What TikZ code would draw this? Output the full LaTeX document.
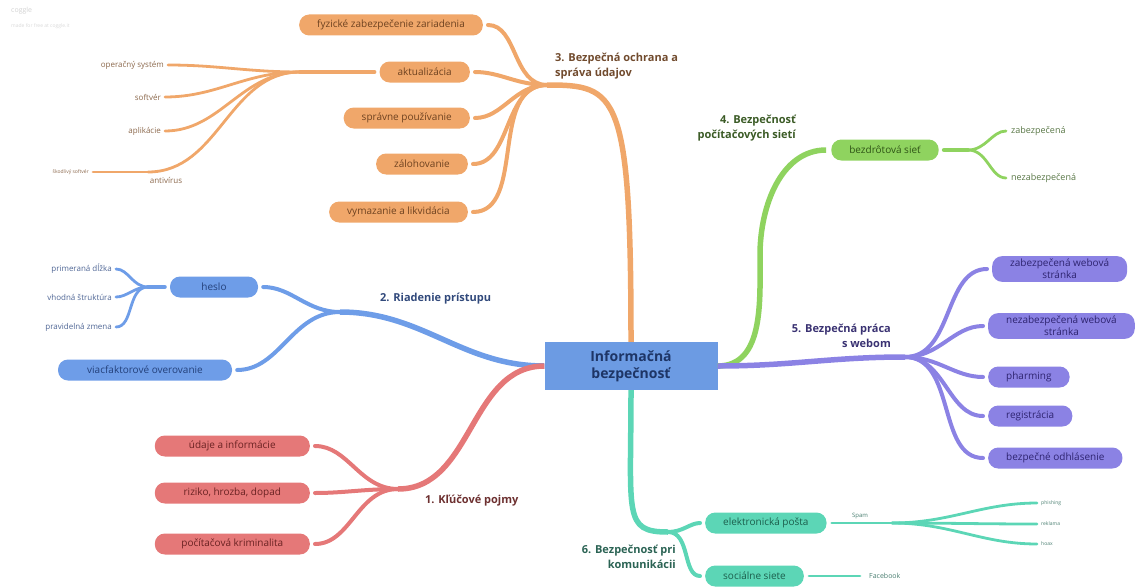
\documentclass[tikz,border=0pt]{standalone}
\usepackage{fontspec}
\setmainfont{Open Sans}
\usepackage{xcolor}
\usepackage{tikz}
\definecolor{orng}{HTML}{F0A76A}
\definecolor{orngtxt}{HTML}{6E4220}
\definecolor{blu}{HTML}{6E9DE8}
\definecolor{blutxt}{HTML}{23407A}
\definecolor{rd}{HTML}{E57878}
\definecolor{rdtxt}{HTML}{6A2222}
\definecolor{grn}{HTML}{8FD35F}
\definecolor{grntxt}{HTML}{2F5416}
\definecolor{prp}{HTML}{8B82E4}
\definecolor{prptxt}{HTML}{2E2470}
\definecolor{tel}{HTML}{5CD6B6}
\definecolor{teltxt}{HTML}{1C5E4C}
\definecolor{rootfill}{HTML}{6C9BE3}
\definecolor{roottxt}{HTML}{1E3566}
\tikzset{
    box/.style = {rounded corners=10pt, minimum height=21pt, inner xsep=18pt, inner ysep=3pt, align=center, font=\fontsize{10}{12}\selectfont},
    obox/.style = {box, fill=orng, text=orngtxt},
    bbox/.style = {box, fill=blu, text=blutxt},
    rbox/.style = {box, fill=rd, text=rdtxt, minimum width=155pt},
    gbox/.style = {box, fill=grn, text=grntxt},
    pbox/.style = {box, fill=prp, text=prptxt},
    tbox/.style = {box, fill=tel, text=teltxt},
    rootbox/.style = {rectangle, fill=rootfill, text=roottxt, minimum width=173pt, minimum height=48pt, align=center, font=\fontsize{14}{17}\selectfont\bfseries},
    leaf/.style = {inner sep=1pt, font=\fontsize{8}{10}\selectfont},
    tiny_leaf/.style = {inner sep=1pt, font=\fontsize{5}{6}\selectfont},
    branch/.style = {inner sep=0pt, font=\fontsize{11}{15}\selectfont\bfseries},
    trunk/.style = {line width=5.5pt},
    twig/.style = {line width=4pt, line cap=round, shorten >=5pt},
    hair/.style = {line width=2.8pt, line cap=round, shorten >=3pt}
}
\begin{document}
\begin{tikzpicture}
    [x=1pt, y=-1pt]
    \useasboundingbox (0,0) rectangle (1147,586);

    \node [anchor=north west, inner sep=0pt, text=gray!35, font=\fontsize{7}{8}\selectfont] (logo) at (11,7) {coggle};
    \node [anchor=north west, inner sep=0pt, text=gray!30, font=\fontsize{5}{6}\selectfont] (made) at (11,23) {made for free at coggle.it};

    \node [rootbox] (root) at (631,366) {Informačná\\bezpečnosť};

    % 3
    \coordinate (j3) at (547,85);
    \node [branch, text=orngtxt!85!gray, anchor=west, align=left] (b3) at (555,66) {3. Bezpečná ochrana a\\správa údajov};
    \node [obox, anchor=east] (fyz) at (483,25) {fyzické zabezpečenie zariadenia};
    \node [obox, anchor=east] (akt) at (470,72) {aktualizácia};
    \node [obox, anchor=east] (sprav) at (470,118) {správne používanie};
    \node [obox, anchor=east] (zal) at (468,164) {zálohovanie};
    \node [obox, anchor=east] (vym) at (468,212) {vymazanie a likvidácia};
    \coordinate (jakt) at (300,72);
    \node [leaf, text=orngtxt!80, anchor=east] (os) at (165,65) {operačný systém};
    \node [leaf, text=orngtxt!80, anchor=east] (soft) at (162,97) {softvér};
    \node [leaf, text=orngtxt!80, anchor=east] (apl) at (162,131) {aplikácie};
    \coordinate (antiv) at (148,172);
    \node [leaf, text=orngtxt!80, anchor=north] (antivt) at (166,176) {antivírus};
    \node [tiny_leaf, text=orngtxt!80, anchor=east] (skod) at (90,172) {škodlivý softvér};

    \draw [trunk, orng] (root.north) .. controls +(0,-250) and +(70,0) .. (j3);
    \foreach \n in {fyz,akt,sprav,zal,vym}
        \draw [twig, orng] (j3) to[out=180,in=0] (\n.east);
    \draw [twig, orng, shorten >=0pt, shorten <=5pt] (akt.west) -- (jakt);
    \foreach \n in {os,soft,apl}
        \draw [hair, orng] (jakt) to[out=180,in=0] (\n.east);
    \draw [hair, orng, shorten >=0pt] (jakt) to[out=180,in=0] (antiv);
    \draw [hair, orng] (antiv) -- (skod.east);

    % 2
    \coordinate (j2) at (340,312);
    \node [branch, text=blutxt!85!gray, anchor=west] (b2) at (380,299) {2. Riadenie prístupu};
    \node [bbox, minimum width=88pt] (heslo) at (214,287) {heslo};
    \node [bbox, minimum width=174pt] (viac) at (145,370) {viacfaktorové overovanie};
    \coordinate (jh) at (148,287);
    \node [leaf, text=blutxt!80, anchor=east] (dlzka) at (113,269) {primeraná dĺžka};
    \node [leaf, text=blutxt!80, anchor=east] (strukt) at (113,297) {vhodná štruktúra};
    \node [leaf, text=blutxt!80, anchor=east] (zmena) at (113,327) {pravidelná zmena};

    \draw [trunk, blu] (root.west) to[out=180,in=0] (j2);
    \foreach \n in {heslo,viac}
        \draw [twig, blu] (j2) to[out=180,in=0] (\n.east);
    \draw [twig, blu, shorten >=0pt, shorten <=5pt] (heslo.west) -- (jh);
    \foreach \n in {dlzka,strukt,zmena}
        \draw [hair, blu] (jh) to[out=180,in=0] (\n.east);

    % 1
    \coordinate (j1) at (398,489);
    \node [branch, text=rdtxt!85!gray, anchor=west] (b1) at (425,501) {1. Kľúčové pojmy};
    \node [rbox, anchor=east] (udaje) at (310,446) {údaje a informácie};
    \node [rbox, anchor=east] (riziko) at (310,493) {riziko, hrozba, dopad};
    \node [rbox, anchor=east] (krim) at (310,544) {počítačová kriminalita};

    \draw [trunk, rd] (root.west) to[out=180,in=0] (j1);
    \foreach \n in {udaje,riziko,krim}
        \draw [twig, rd] (j1) to[out=180,in=0] (\n.east);

    % 4
    \node [branch, text=grntxt!85!gray, anchor=east, align=right] (b4) at (796,128) {4. Bezpečnosť\\počítačových sietí};
    \node [gbox] (bezd) at (885,150) {bezdrôtová sieť};
    \coordinate (g4) at (760,255);
    \coordinate (jb) at (968,150);
    \node [leaf, text=grntxt!80, anchor=west, font=\fontsize{9}{11}\selectfont] (zab) at (1010,131) {zabezpečená};
    \node [leaf, text=grntxt!80, anchor=west, font=\fontsize{9}{11}\selectfont] (nezab) at (1010,178) {nezabezpečená};

    \draw [trunk, grn, shorten >=5pt] (root.east) to[out=0,in=-90] (g4) to[out=90,in=180] (bezd.west);
    \draw [twig, grn, shorten >=0pt, shorten <=5pt] (bezd.east) -- (jb);
    \foreach \n in {zab,nezab}
        \draw [hair, grn, shorten >=4pt] (jb) to[out=0,in=180] (\n.west);

    % 5
    \coordinate (j5) at (905,357);
    \node [branch, text=prptxt!85!gray, anchor=east, align=right] (b5) at (891,336) {5. Bezpečná práca\\s webom};
    \node [pbox, anchor=west] (zweb) at (992,269) {zabezpečená webová\\stránka};
    \node [pbox, anchor=west] (nweb) at (988,326) {nezabezpečená webová\\stránka};
    \node [pbox, anchor=west] (pharm) at (988,377) {pharming};
    \node [pbox, anchor=west] (reg) at (988,416) {registrácia};
    \node [pbox, anchor=west] (odhl) at (988,458) {bezpečné odhlásenie};

    \draw [trunk, prp] (root.east) to[out=0,in=180] (j5);
    \foreach \n in {zweb,nweb,pharm,reg,odhl}
        \draw [twig, prp] (j5) to[out=0,in=180] (\n.west);

    % 6
    \coordinate (j6) at (668,532);
    \node [branch, text=teltxt!85!gray, anchor=east, align=right] (b6) at (676,557) {6. Bezpečnosť pri\\komunikácii};
    \node [tbox, anchor=west] (epost) at (705,523) {elektronická pošta};
    \node [tbox, anchor=west] (soc) at (705,576) {sociálne siete};
    \coordinate (jspam) at (892,523);
    \node [leaf, text=teltxt!80, anchor=south, font=\fontsize{6}{7}\selectfont] (spam) at (860,520) {Spam};
    \node [tiny_leaf, text=teltxt!80, anchor=west] (phish) at (1040,503) {phishing};
    \node [tiny_leaf, text=teltxt!80, anchor=west] (rekl) at (1040,524) {reklama};
    \node [tiny_leaf, text=teltxt!80, anchor=west] (hoax) at (1040,544) {hoax};
    \node [leaf, text=teltxt!80, anchor=west, font=\fontsize{7}{8}\selectfont] (fb) at (868,576) {Facebook};

    \draw [trunk, tel] (root.south) .. controls +(0,125) and +(-45,0) .. (j6);
    \foreach \n in {epost,soc}
        \draw [twig, tel] (j6) to[out=0,in=180] (\n.west);
    \draw [hair, tel, shorten >=0pt, shorten <=5pt] (epost.east) -- (jspam);
    \foreach \n in {phish,rekl,hoax}
        \draw [hair, tel] (jspam) to[out=0,in=180] (\n.west);
    \draw [hair, tel, shorten <=5pt, shorten >=8pt] (soc.east) -- (fb.west);
\end{tikzpicture}
\end{document}
